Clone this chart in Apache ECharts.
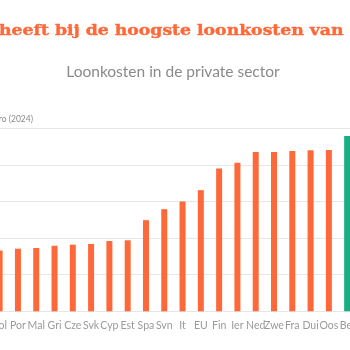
<!DOCTYPE html>
<html>
<head>
<meta charset="utf-8">
<script src="https://cdn.jsdelivr.net/npm/echarts@6/dist/echarts.min.js"></script>
<style>
html,body{margin:0;padding:0;background:#fff;overflow:hidden;width:350px;height:350px;}
#chart{position:absolute;left:-50px;top:0;width:450px;height:350px;}
</style>
</head>
<body>
<div id="chart"></div>
<script>
// Data (hourly labour cost, euro, 2024)
const categories = ['Pol','Por','Mal','Gri','Cze','Svk','Cyp','Est','Spa','Svn','It','EU','Fin','Ier','Ned','Zwe','Fra','Dui','Oos','Bel'];
const values = [16.6,17.1,17.3,17.9,18.2,18.4,19.2,19.4,24.9,27.9,30.0,33.1,39.0,40.6,43.5,43.5,43.8,44.0,44.1,47.9];
const highlight = 'Bel';
const yTicks = [0,10,20,30,40,50];

const titleText = 'België heeft bij de hoogste loonkosten van Europa';
const subtitleText = 'Loonkosten in de private sector';
const axisNameText = 'Per uur, in euro (2024)';

const OFFSET = 50; // container shifted left by this many px
const titleFont = 'bold 15px "DejaVu Serif"';
const TITLE_SCALE = 1.15;
const c = document.createElement('canvas').getContext('2d');
c.font = titleFont;
const preW = c.measureText('België ').width;

const chart = echarts.init(document.getElementById('chart'), null, {renderer:'canvas'});
chart.setOption({
  animation:false,
  backgroundColor:'#fff',
  grid:{left:40.5, width:365.8, top:128.3, height:183, containLabel:false},
  xAxis:{
    type:'category', data:categories,
    axisLine:{show:false}, axisTick:{show:false},
    axisLabel:{color:'#9a9a9a', fontFamily:'Lato', fontSize:10.5, margin:9, interval:0}
  },
  yAxis:{
    type:'value', min:yTicks[0], max:yTicks[yTicks.length-1], interval:10,
    axisLabel:{show:false}, axisLine:{show:false}, axisTick:{show:false},
    splitLine:{lineStyle:{color:'#e6e6e6', width:1}}
  },
  series:[{
    type:'bar', barWidth:6,
    data:values.map((v,i)=>({value:v, itemStyle:{color: categories[i]===highlight ? '#1aae86' : '#ff6838'}}))
  }],
  graphic:[
    {type:'text', x: OFFSET - 1 - preW*TITLE_SCALE, y: 31, scaleX: TITLE_SCALE,
      style:{text:titleText, font:titleFont, fill:'#ff6838', stroke:'#ff6838', lineWidth:0.4, textAlign:'left', textVerticalAlign:'middle'}},
    {type:'text', x: OFFSET + 173, y: 72, style:{text:subtitleText, fontFamily:'Lato', fontSize:15.5, fill:'#8a8a8a', textAlign:'center', textVerticalAlign:'middle'}},
    {type:'text', x: OFFSET + 33, y: 119.5, style:{text:axisNameText, fontFamily:'Lato', fontSize:8.5, fill:'#8a8a8a', textAlign:'right', textVerticalAlign:'middle'}}
  ]
});
</script>
</body>
</html>
